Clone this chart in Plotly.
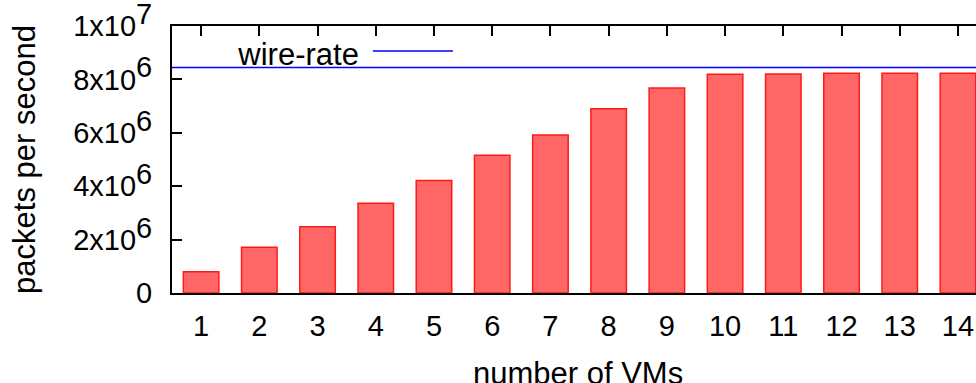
import plotly.graph_objects as go

# Data
vms = list(range(1, 15))
pps = [0.80e6, 1.71e6, 2.48e6, 3.36e6, 4.21e6, 5.16e6, 5.92e6,
       6.90e6, 7.68e6, 8.19e6, 8.20e6, 8.23e6, 8.23e6, 8.23e6]
wire_rate = 8.446e6
wire_x = [0.5, 15.5]
ytick_vals = [0, 2e6, 4e6, 6e6, 8e6, 1e7]
sup = lambda e: "<sup><span style='font-size:29px'>%d</span></sup>" % e
ytick_text = ["0", "2x10" + sup(6), "4x10" + sup(6), "6x10" + sup(6),
              "8x10" + sup(6), "1x10" + sup(7)]
xtick_text = [str(v) for v in vms]
x_title = "number of VMs"
y_title = "packets per second"

FONT = "Liberation Sans, Arial, Helvetica, sans-serif"

fig = go.Figure()
fig.add_trace(go.Bar(
    x=vms, y=pps, width=0.61,
    marker=dict(color="#FF6666", line=dict(color="#FF1A1A", width=1.5)),
    showlegend=False,
))
fig.add_trace(go.Scatter(
    x=wire_x, y=[wire_rate, wire_rate], mode="lines",
    line=dict(color="#0000FF", width=1.5), name=" ", showlegend=True,
))
# invisible helper trace so the mirrored top tick axis is drawn
fig.add_trace(go.Scatter(
    x=vms, y=pps, xaxis="x2", mode="markers",
    marker=dict(opacity=0), hoverinfo="skip", showlegend=False,
))

xr = [0.5, 14.31]
fig.update_layout(
    width=976, height=383,
    margin=dict(l=172, r=0, t=26, b=90, pad=0),
    paper_bgcolor="white", plot_bgcolor="white",
    font=dict(family=FONT, size=29, color="black"),
    bargap=0.39,
    xaxis=dict(
        range=xr, tickmode="array", tickvals=vms, ticktext=xtick_text,
        ticks="", showline=True, linecolor="black", linewidth=2, mirror=True,
        showgrid=False, zeroline=False, ticklabelstandoff=6, automargin=False,
        tickfont=dict(size=29), ticklabeloverflow="allow",
    ),
    xaxis2=dict(
        range=xr, overlaying="x", side="top", tickmode="array", tickvals=vms,
        ticks="inside", ticklen=10, tickwidth=1.5, tickcolor="black",
        showticklabels=False, showgrid=False, zeroline=False, showline=False,
        automargin=False,
    ),
    yaxis=dict(
        range=[0, 1e7], tickmode="array", tickvals=ytick_vals, ticktext=ytick_text,
        ticks="inside", ticklen=10, tickwidth=1.5, tickcolor="black",
        showline=True, linecolor="black", linewidth=2,
        showgrid=False, zeroline=False, ticklabelstandoff=12, automargin=False,
        tickfont=dict(size=29), ticklabeloverflow="allow",
        title=dict(text=y_title, font=dict(size=31), standoff=28),
    ),
    legend=dict(
        x=0.08, y=0.905, xanchor="left", yanchor="middle",
        bgcolor="rgba(0,0,0,0)", font=dict(size=31),
        title=dict(text="wire-rate", side="left", font=dict(size=31)),
        itemwidth=80,
    ),
    annotations=[dict(
        text=x_title, xref="paper", yref="paper", x=0.5, y=0,
        xanchor="center", yanchor="top", yshift=-61, xshift=4, showarrow=False,
        font=dict(size=31),
    )],
)

fig.write_html("out.html", config={"displayModeBar": False},
               post_script="document.body.style.margin='0';")
